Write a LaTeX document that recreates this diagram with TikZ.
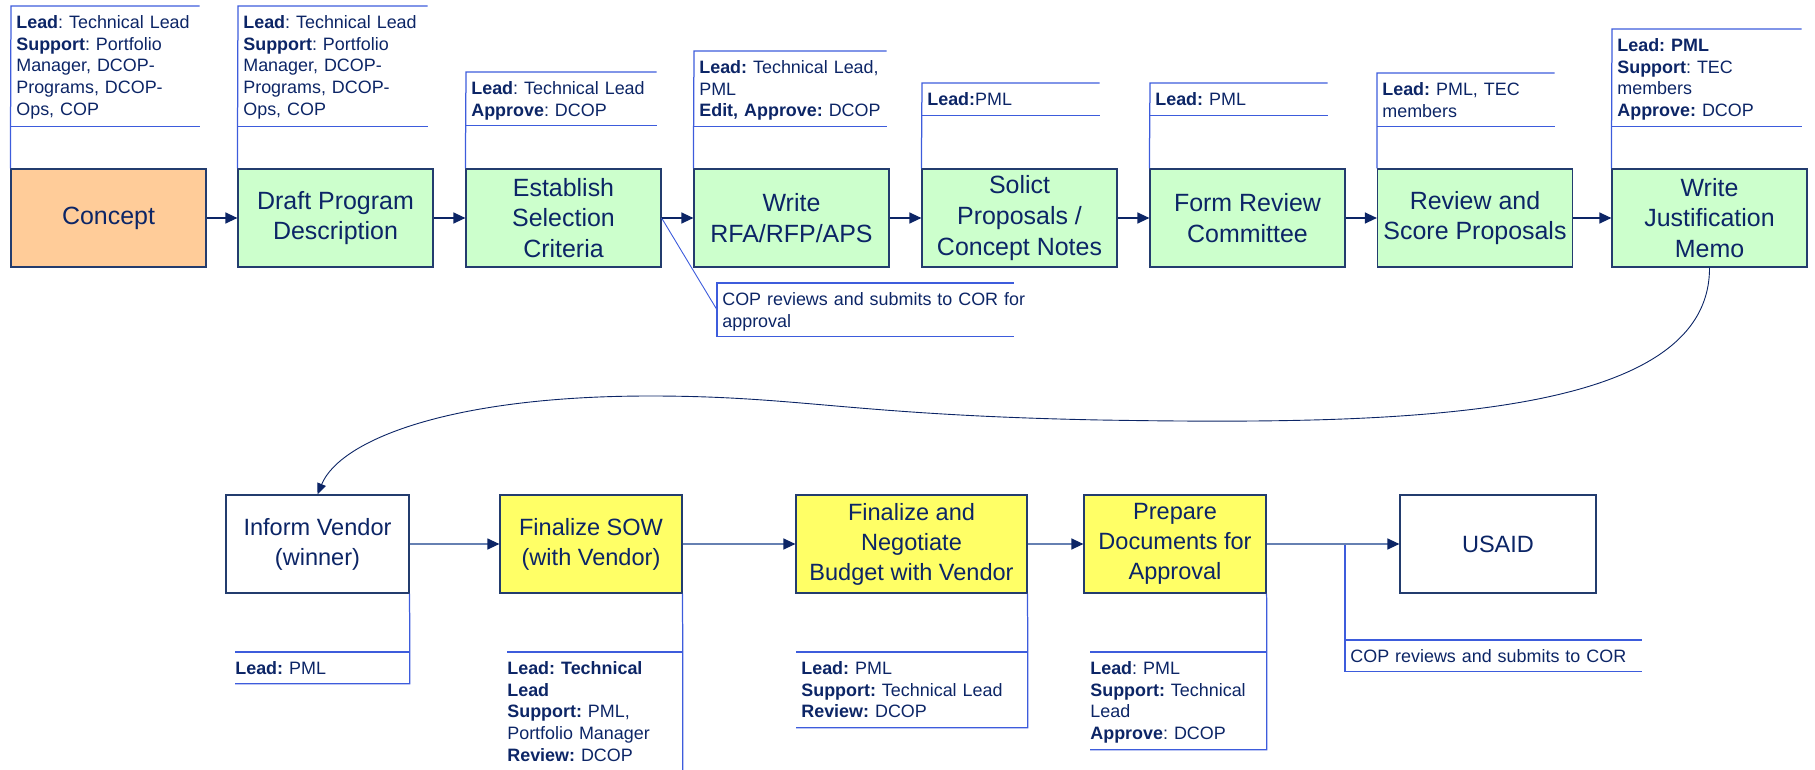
\documentclass[tikz,border=0pt]{standalone}
\usepackage{fontspec}
\setmainfont{Liberation Sans}
\usepackage{xcolor}
\usepackage{tikz}
\usetikzlibrary{arrows.meta}
\definecolor{ink}{RGB}{12,37,102}
\definecolor{boxedge}{RGB}{35,60,110}
\definecolor{noteblue}{RGB}{61,92,220}
\definecolor{lowflow}{RGB}{102,128,178}
\definecolor{stepgreen}{RGB}{204,255,204}
\definecolor{steporange}{RGB}{255,204,153}
\definecolor{stepyellow}{RGB}{255,255,102}
\frenchspacing
\tikzset{ step_box/.style = {rectangle, draw=boxedge, line width=0.025cm, text=ink, align=center, inner sep=0pt, minimum width=3.9cm, minimum height=1.96cm, font=\fontsize{14.2}{17.4}\selectfont} }
\tikzset{ low_box/.style = {step_box, fill=white, minimum width=3.64cm, font=\fontsize{13.4}{17.1}\selectfont} }
\tikzset{ note_text/.style = {anchor=north west, text=ink, align=left, inner xsep=0.1cm, inner ysep=0pt, text height=0.44cm, font=\fontsize{10.2}{12.35}\selectfont} }
\tikzset{ note_line/.style = {draw=noteblue, line width=0.025cm} }
\tikzset{ flow/.style = {draw=ink, line width=0.025cm, -{Triangle[length=0.24cm, width=0.22cm]}} }
\tikzset{ flow_low/.style = {draw=lowflow, line width=0.025cm, -{Triangle[length=0.24cm, width=0.22cm, color=ink]}} }
\tikzset{ loop_back/.style = {draw=ink, line width=0.018cm, -{Triangle[length=0.22cm, width=0.18cm]}} }

\begin{document}
\begin{tikzpicture}[x=0.02cm, y=-0.02cm]
                \useasboundingbox (0, 0) rectangle (1815, 770);
                % top row
                \node [step_box, fill=steporange] (concept) at (108.5, 218) {Concept};
                \node [step_box, fill=stepgreen] (draft) at (335.5, 218) {Draft Program\\Description};
                \node [step_box, fill=stepgreen] (select) at (563.5, 218) {Establish\\Selection\\Criteria};
                \node [step_box, fill=stepgreen] (rfa) at (791.5, 218) {Write\\RFA/RFP/APS};
                \node [step_box, fill=stepgreen] (solicit) at (1019.5, 218) {Solict\\Proposals /\\Concept Notes};
                \node [step_box, fill=stepgreen] (form) at (1247.5, 218) {Form Review\\Committee};
                \node [step_box, fill=stepgreen] (review) at (1475, 218) {Review and\\Score Proposals};
                \node [step_box, fill=stepgreen] (memo) at (1709.5, 218) {Write\\Justification\\Memo};
                % bottom row
                \node [low_box, minimum width=3.66cm] (inform) at (317.5, 544) {Inform Vendor\\(winner)};
                \node [low_box, fill=stepyellow] (sow) at (591, 544) {Finalize SOW\\(with Vendor)};
                \node [low_box, fill=stepyellow, minimum width=4.62cm] (budget) at (911.5, 544) {Finalize and\\Negotiate\\Budget with Vendor};
                \node [low_box, fill=stepyellow] (prep) at (1175, 544) {Prepare\\Documents for\\Approval};
                \node [low_box, minimum width=3.92cm] (usaid) at (1498, 544) {USAID};
                % notes above
                \node [note_text, text width=3.56cm, text depth=1.96cm] (n_concept) at (11, 6) {\textbf{Lead}: Technical Lead\\\textbf{Support}: Portfolio\\Manager, DCOP-\\Programs, DCOP-\\Ops, COP};
                \node [note_text, text width=3.58cm, text depth=1.96cm] (n_draft) at (238, 6) {\textbf{Lead}: Technical Lead\\\textbf{Support}: Portfolio\\Manager, DCOP-\\Programs, DCOP-\\Ops, COP};
                \node [note_text, text width=3.6cm, text depth=0.62cm] (n_select) at (466, 72) {\textbf{Lead}: Technical Lead\\\textbf{Approve}: DCOP};
                \node [note_text, text width=3.64cm, text depth=1.06cm] (n_rfa) at (694, 51) {\mbox{\textbf{Lead:} Technical Lead,}\\PML\\\mbox{\textbf{Edit, Approve:} DCOP}};
                \node [note_text, text width=3.34cm, text depth=0.2cm] (n_solicit) at (922, 83) {\textbf{Lead:}PML};
                \node [note_text, text width=3.34cm, text depth=0.2cm] (n_form) at (1150, 83) {\textbf{Lead:} PML};
                \node [note_text, text width=3.34cm, text depth=0.62cm] (n_review) at (1377, 73) {\textbf{Lead:} PML, TEC\\members};
                \node [note_text, text width=3.58cm, text depth=1.5cm] (n_memo) at (1612, 29) {\textbf{Lead: PML}\\\textbf{Support}: TEC\\members\\\textbf{Approve:} DCOP};
                \node [note_text, text width=5.72cm, text depth=0.62cm] (n_cop) at (717, 283) {\mbox{COP reviews and submits to COR for}\\approval};
                % notes below
                \node [note_text, inner xsep=0pt, text width=3.48cm, text depth=0.18cm] (n_inform) at (235, 652) {\textbf{Lead:} PML};
                \node [note_text, inner xsep=0pt, text width=3.5cm, text depth=2.32cm] (n_sow) at (507, 652) {\textbf{Lead: Technical}\\\textbf{Lead}\\\textbf{Support:} PML,\\Portfolio Manager\\\textbf{Review:} DCOP};
                \node [note_text, text width=4.42cm, text depth=1.06cm] (n_budget) at (796, 652) {\textbf{Lead:} PML\\\textbf{Support:} Technical Lead\\\textbf{Review:} DCOP};
                \node [note_text, inner xsep=0pt, text width=3.52cm, text depth=1.5cm] (n_prep) at (1090, 652) {\textbf{Lead}: PML\\\textbf{Support:} Technical\\Lead\\\textbf{Approve}: DCOP};
                \node [note_text, text width=5.72cm, text depth=0.18cm] (n_cor) at (1345, 640) {COP reviews and submits to COR};
                % note brackets
                \draw[note_line] (n_concept.north east) -- (n_concept.north west) -- (concept.north west);
                \draw[note_line] (n_concept.south west) -- (n_concept.south east);
                \draw[note_line] (n_draft.north east) -- (n_draft.north west) -- (draft.north west);
                \draw[note_line] (n_draft.south west) -- (n_draft.south east);
                \draw[note_line] (n_select.north east) -- (n_select.north west) -- (select.north west);
                \draw[note_line] (n_select.south west) -- (n_select.south east);
                \draw[note_line] (n_rfa.north east) -- (n_rfa.north west) -- (rfa.north west);
                \draw[note_line] (n_rfa.south west) -- (n_rfa.south east);
                \draw[note_line] (n_solicit.north east) -- (n_solicit.north west) -- (solicit.north west);
                \draw[note_line] (n_solicit.south west) -- (n_solicit.south east);
                \draw[note_line] (n_form.north east) -- (n_form.north west) -- (form.north west);
                \draw[note_line] (n_form.south west) -- (n_form.south east);
                \draw[note_line] (n_review.north east) -- (n_review.north west) -- (review.north west);
                \draw[note_line] (n_review.south west) -- (n_review.south east);
                \draw[note_line] (n_memo.north east) -- (n_memo.north west) -- (memo.north west);
                \draw[note_line] (n_memo.south west) -- (n_memo.south east);
                \draw[note_line, line width=0.018cm] (select.east) -- (n_cop.west);
                \draw[note_line] (n_cop.north east) -- (n_cop.north west) -- (n_cop.south west) -- (n_cop.south east);
                \draw[note_line] (n_inform.north west) -- (n_inform.north east);
                \draw[note_line] (n_inform.south west) -- (n_inform.south east) -- (inform.south east);
                \draw[note_line] (n_sow.north west) -- (n_sow.north east);
                \draw[note_line] (n_sow.south west) -- (n_sow.south east) -- (sow.south east);
                \draw[note_line] (n_budget.north west) -- (n_budget.north east);
                \draw[note_line] (n_budget.south west) -- (n_budget.south east) -- (budget.south east);
                \draw[note_line] (n_prep.north west) -- (n_prep.north east);
                \draw[note_line] (n_prep.south west) -- (n_prep.south east) -- (prep.south east);
                \draw[note_line] (n_cor.north west |- usaid.west) -- (n_cor.south west) -- (n_cor.south east);
                \draw[note_line] (n_cor.north west) -- (n_cor.north east);
                % flow
                \draw[flow] (concept) to (draft);
                \draw[flow] (draft) to (select);
                \draw[flow] (select) to (rfa);
                \draw[flow] (rfa) to (solicit);
                \draw[flow] (solicit) to (form);
                \draw[flow] (form) to (review);
                \draw[flow] (review) to (memo);
                \draw[loop_back] (memo.south) .. controls (1710, 420) and (1400, 425) .. (1100, 420) .. controls (850, 415) and (800, 396) .. (650, 396) .. controls (450, 396) and (340, 440) .. (inform.north);
                \draw[flow_low] (inform) to (sow);
                \draw[flow_low] (sow) to (budget);
                \draw[flow_low] (budget) to (prep);
                \draw[flow_low] (prep) to (usaid);
\end{tikzpicture}
\end{document}
